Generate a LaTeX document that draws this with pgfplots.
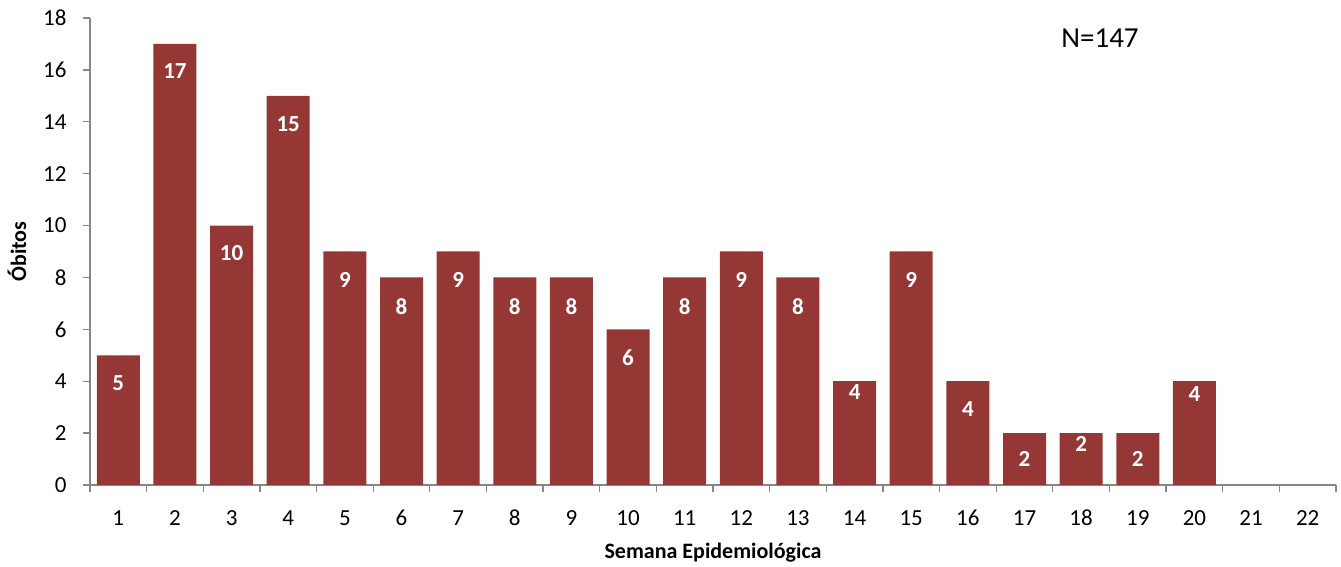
\documentclass[border=0pt]{standalone}
\usepackage{pgfplots}
\pgfplotsset{compat=1.18}
\usepackage{pgfplotstable}
\usepackage{fontspec}
\setmainfont{Carlito}

\definecolor{barred}{HTML}{953735}
\definecolor{axisgray}{HTML}{868686}

% deaths per epidemiological week; off = distance of the value label below the bar top (pt)
\pgfplotstableread{
sem obitos off
1  5  28
2  17 27
3  10 27
4  15 28
5  9  28
6  8  29
7  9  28
8  8  29
9  8  29
10 6  28
11 8  29
12 9  28
13 8  29
14 4  11
15 9  28
16 4  28
17 2  26
18 2  11
19 2  26
20 4  13
}\obitos

\begin{document}
\begin{tikzpicture}
\begin{axis}[
  name=ax,
  scale only axis,
  width=1246pt, height=467pt,
  xmin=0.5, xmax=22.5,
  ymin=0, ymax=18,
  axis lines=left,
  axis line style={-, draw=axisgray, line width=1.3pt},
  ytick={0,2,...,18},
  xtick={1,...,22},
  minor xtick={0.5,1.5,...,22.5},
  tick align=outside,
  major tick length=7pt,
  minor tick length=7pt,
  tick style={draw=axisgray, line width=1.3pt},
  major x tick style={draw=none},
  ticklabel style={font=\fontsize{23}{27}\selectfont},
  xticklabel style={anchor=base, yshift=-33pt},
  yticklabel style={xshift=-13pt},
  /pgf/number format/assume math mode=true,
  xlabel={Semana Epidemiológica},
  xlabel style={font=\bfseries\fontsize{22}{26}\selectfont,
    at={(axis description cs:0.5,0)}, anchor=center, yshift=-68pt},
  ylabel={Óbitos},
  ylabel style={font=\bfseries\fontsize{22}{26}\selectfont,
    at={([xshift=-73pt]axis description cs:0,0.5)}, anchor=center},
  ybar,
  bar width=43pt,
  clip=false,
]
\addplot[
  fill=barred, draw=none,
  visualization depends on={\thisrow{off} \as \off},
  nodes near coords,
  nodes near coords style={anchor=center, yshift=-\off pt, text=white,
    font=\bfseries\fontsize{23}{27}\selectfont},
] table[x=sem, y=obitos] {\obitos};
\node[font=\fontsize{29}{34}\selectfont] at (axis description cs:0.8106,0.957) {N=147};
\end{axis}
\path (ax.south west) ++(-90pt,-82pt) rectangle ++(1341pt,567pt);
\end{tikzpicture}
\end{document}
